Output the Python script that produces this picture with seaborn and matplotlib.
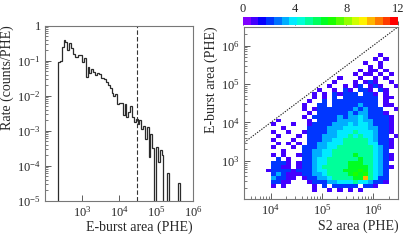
"""
Two-panel E-burst figure: rate spectrum (left) and E-burst vs S2 area 2D histogram (right)
"""
import numpy as np
import matplotlib
matplotlib.use('Agg')
import matplotlib.pyplot as plt
from matplotlib.colors import ListedColormap, hsv_to_rgb
from matplotlib.ticker import FuncFormatter, LogFormatterMathtext
import seaborn as sns

sns.set_style('ticks')
plt.rcParams['font.family'] = ['Liberation Serif', 'DejaVu Serif']
plt.rcParams['mathtext.fontset'] = 'stix'

# ---- left panel: rate per log bin (0.05 decade bins starting at 10^2.35) ----
hist_start = 2.35
hist_step = 0.05
rates = [
    0.089, 0.10, 0.25, 0.39, 0.35, 0.20, 0.32, 0.23, 0.16, 0.13,
    0.13, 0.145, 0.145, 0.093, 0.12, 0.035, 0.068, 0.044, 0.056, 0.049,
    0.039, 0.044, 0.042, 0.032, 0.032, 0.029, 0.025, 0.020, 0.017, 0.012,
    0.010, 0.011, 0.0056, 0.0063, 0.0060, 0.0028, 0.0056, 0.0025, 0.0035, 0.0050,
    0.0025, 0.0018, 0.0022, 0.0016, 0.0020, 0.0011, 0.0014, 0.00056, 0.0013, 0.00018,
    0.0008, 0.00032, 0.0, 0.00035, 0.000126, 0.00028, 0.0002, 0.0, 0.0, 0.000063,
    0.0, 0.0, 0.0, 0.0, 0.0, 0.000032,
]
burst_cut = 3e4

# ---- right panel: counts per cell (hex digit, '.' = empty), 0.1 decade cells ----
# columns: log10(S2) 3.5 -> 6.5, rows: log10(E-burst) 6.5 (top) -> 2.0
s2_lo, s2_hi = 3.5, 6.5
eb_lo, eb_hi = 2.0, 6.5
cell = 0.1
grid_rows = [
    '..... ..... ..... ..... ..... .....',
    '..... ..... ..... ..... ..... .....',
    '..... ..... ..... ..... ..... .....',
    '..... ..... ..... ..... ..... .....',
    '..... ..... ..... ..... ..... .....',
    '..... ..... ..... ..... ..... .....',
    '..... ..... ..... ..... ..... .....',
    '..... ..... ..... ..... ..... .1...',
    '..... ..... ..... ..... ..... 1.1..',
    '..... ..... ..... ..... ...1. .1...',
    '..... ..... ..... ..... ....1 .1...',
    '..... ..... ..... ..... ..1.1 1.1..',
    '..... ..... ..... ..... .1.11 .1.1.',
    '..... ..... ..... ...1. ..1.. 1.1..',
    '..... ..... ..... ..1.. .1.12 1..1.',
    '..... ..... ..... .1..1 .12.1 21..1',
    '..... ..... ....1 ..1.2 1.221 .21..',
    '..... ..... ...1. 1.212 22.22 1.1..',
    '..... ..... ...1. 1.2.2 22222 2.11.',
    '..... ..... ..1.. 2.222 22222 2.1..',
    '..... ..... .1..2 2.222 22322 2.11.',
    '..... ..... .1.12 22222 23232 22..1',
    '..... ..... ..1.2 22222 32332 221..',
    '..... ..... .1.22 22232 33432 2221.',
    '..... .1... ..1.2 22233 33433 2221.',
    '..... 1...1 ..122 22333 43443 2221.',
    '..... ..1.. ..222 23334 44443 3221.',
    '..... 1..1. .1222 23344 45444 3221.',
    '..... .1... 1.222 33344 54544 322.1',
    '..... 1...1 ..222 33445 55554 3221.',
    '..... .1.1. 1.223 34445 55554 4221.',
    '..... 1...1 .2223 34455 55555 4321.',
    '..... ..1.. .2233 44555 55555 432..',
    '..... 1.1.. 12233 44555 56555 4321.',
    '..... .2.1. .2234 45555 55655 4321.',
    '..... 2221. 12234 45555 66655 432..',
    '..... 2211. 12234 55555 66665 4321.',
    '....1 22221 22234 45556 66765 432..',
    '..... 23211 12233 45555 67675 432..',
    '..... 32211 .1223 34555 566a5 422..',
    '..... 2211. ..122 23344 45443 221..',
    '..... 1.1.. ...1. 2.222 22.22 1....',
    '..... ..... ...1. .1.1. 1.1.. .....',
    '..... ..... ..... ..... ..... .....',
    '..... ..... ..... ..... ..... .....',
]

# ---- expand into arrays ----
rates = np.array(rates)
n_bins = len(rates)
edges = 10 ** (hist_start + hist_step * np.arange(n_bins + 1))

xs, ys, ws = [], [], []
for j, row in enumerate(grid_rows):
    row = row.replace(' ', '')
    for i, ch in enumerate(row):
        if ch == '.':
            continue
        xs.append(10 ** (s2_lo + cell * (i + 0.5)))
        ys.append(10 ** (eb_hi - cell * (j + 0.5)))
        ws.append(int(ch, 16))

fig = plt.figure(figsize=(4.07, 2.40), dpi=100)
ax1 = fig.add_axes([0.1106, 0.164, 0.3636, 0.729])
ax2 = fig.add_axes([0.6002, 0.1696, 0.3784, 0.7192])
cax = fig.add_axes([0.597, 0.896, 0.381, 0.034])

# left: step histogram (empty bins drop to the floor of the log axis)
floor = 1e-9
ax1.stairs(np.where(rates > 0, rates, floor), edges, baseline=floor,
           color='#2b2b2b', linewidth=0.9)
ax1.set_xscale('log')
ax1.set_yscale('log')
ax1.set_xlim(1e2, 1e6)
ax1.set_ylim(1e-5, 1)
ax1.axvline(burst_cut, color='#333333', linestyle=(0, (4, 2)), linewidth=0.8)
ax1.set_xticks([1e3, 1e4, 1e5, 1e6])
ax1.set_yticks([1e-5, 1e-4, 1e-3, 1e-2, 1e-1, 1])
mt = LogFormatterMathtext()
ax1.yaxis.set_major_formatter(FuncFormatter(lambda v, p: '1' if abs(v - 1) < 1e-9 else mt(v, p)))
ax1.set_xlabel('E-burst area (PHE)', loc='right', fontsize=10, labelpad=1)
ax1.set_ylabel('Rate (counts/PHE)', loc='top', fontsize=10, labelpad=2)

# right: 2D histogram
n_levels = 20
palette = ListedColormap(hsv_to_rgb(np.column_stack([
    np.linspace(0.75, 0.0, n_levels), np.ones(n_levels), np.ones(n_levels)])))
sns.histplot(x=xs, y=ys, weights=ws, bins=(30, 45),
             binrange=((s2_lo, s2_hi), (eb_lo, eb_hi)),
             log_scale=(True, True), cmap=palette, vmin=0, vmax=12,
             cbar=True, cbar_ax=cax, cbar_kws={'orientation': 'horizontal'}, ax=ax2)
diag = [10 ** 3.48, 10 ** 6.49]
ax2.plot(diag, diag, color='#222222', linestyle=(0, (1.2, 1.2)), linewidth=0.8)
ax2.set_xlim(10 ** 3.48, 10 ** 6.49)
ax2.set_ylim(10 ** 2.0, 10 ** 6.49)
ax2.set_xticks([1e4, 1e5, 1e6])
ax2.set_yticks([1e3, 1e4, 1e5, 1e6])
ax2.set_xlabel('S2 area (PHE)', loc='right', fontsize=10, labelpad=1)
ax2.set_ylabel('E-burst area (PHE)', loc='top', fontsize=10, labelpad=2)

for ax in (ax1, ax2):
    ax.tick_params(which='major', direction='in', length=4, width=0.6,
                   color='#444444', labelsize=9, pad=3)
    ax.tick_params(which='minor', direction='in', length=2, width=0.5, color='#444444')
    for s in ax.spines.values():
        s.set_color('#777777')
        s.set_linewidth(0.8)

cax.set_xticks([0, 4, 8, 12])
cax.tick_params(axis='x', which='both', top=False, bottom=True, labeltop=True,
                labelbottom=False, direction='in', length=3, width=0.6,
                color='#444444', labelsize=9, pad=1)
for s in cax.spines.values():
    s.set_visible(False)

fig.savefig('out.png', dpi=100)
plt.close(fig)
